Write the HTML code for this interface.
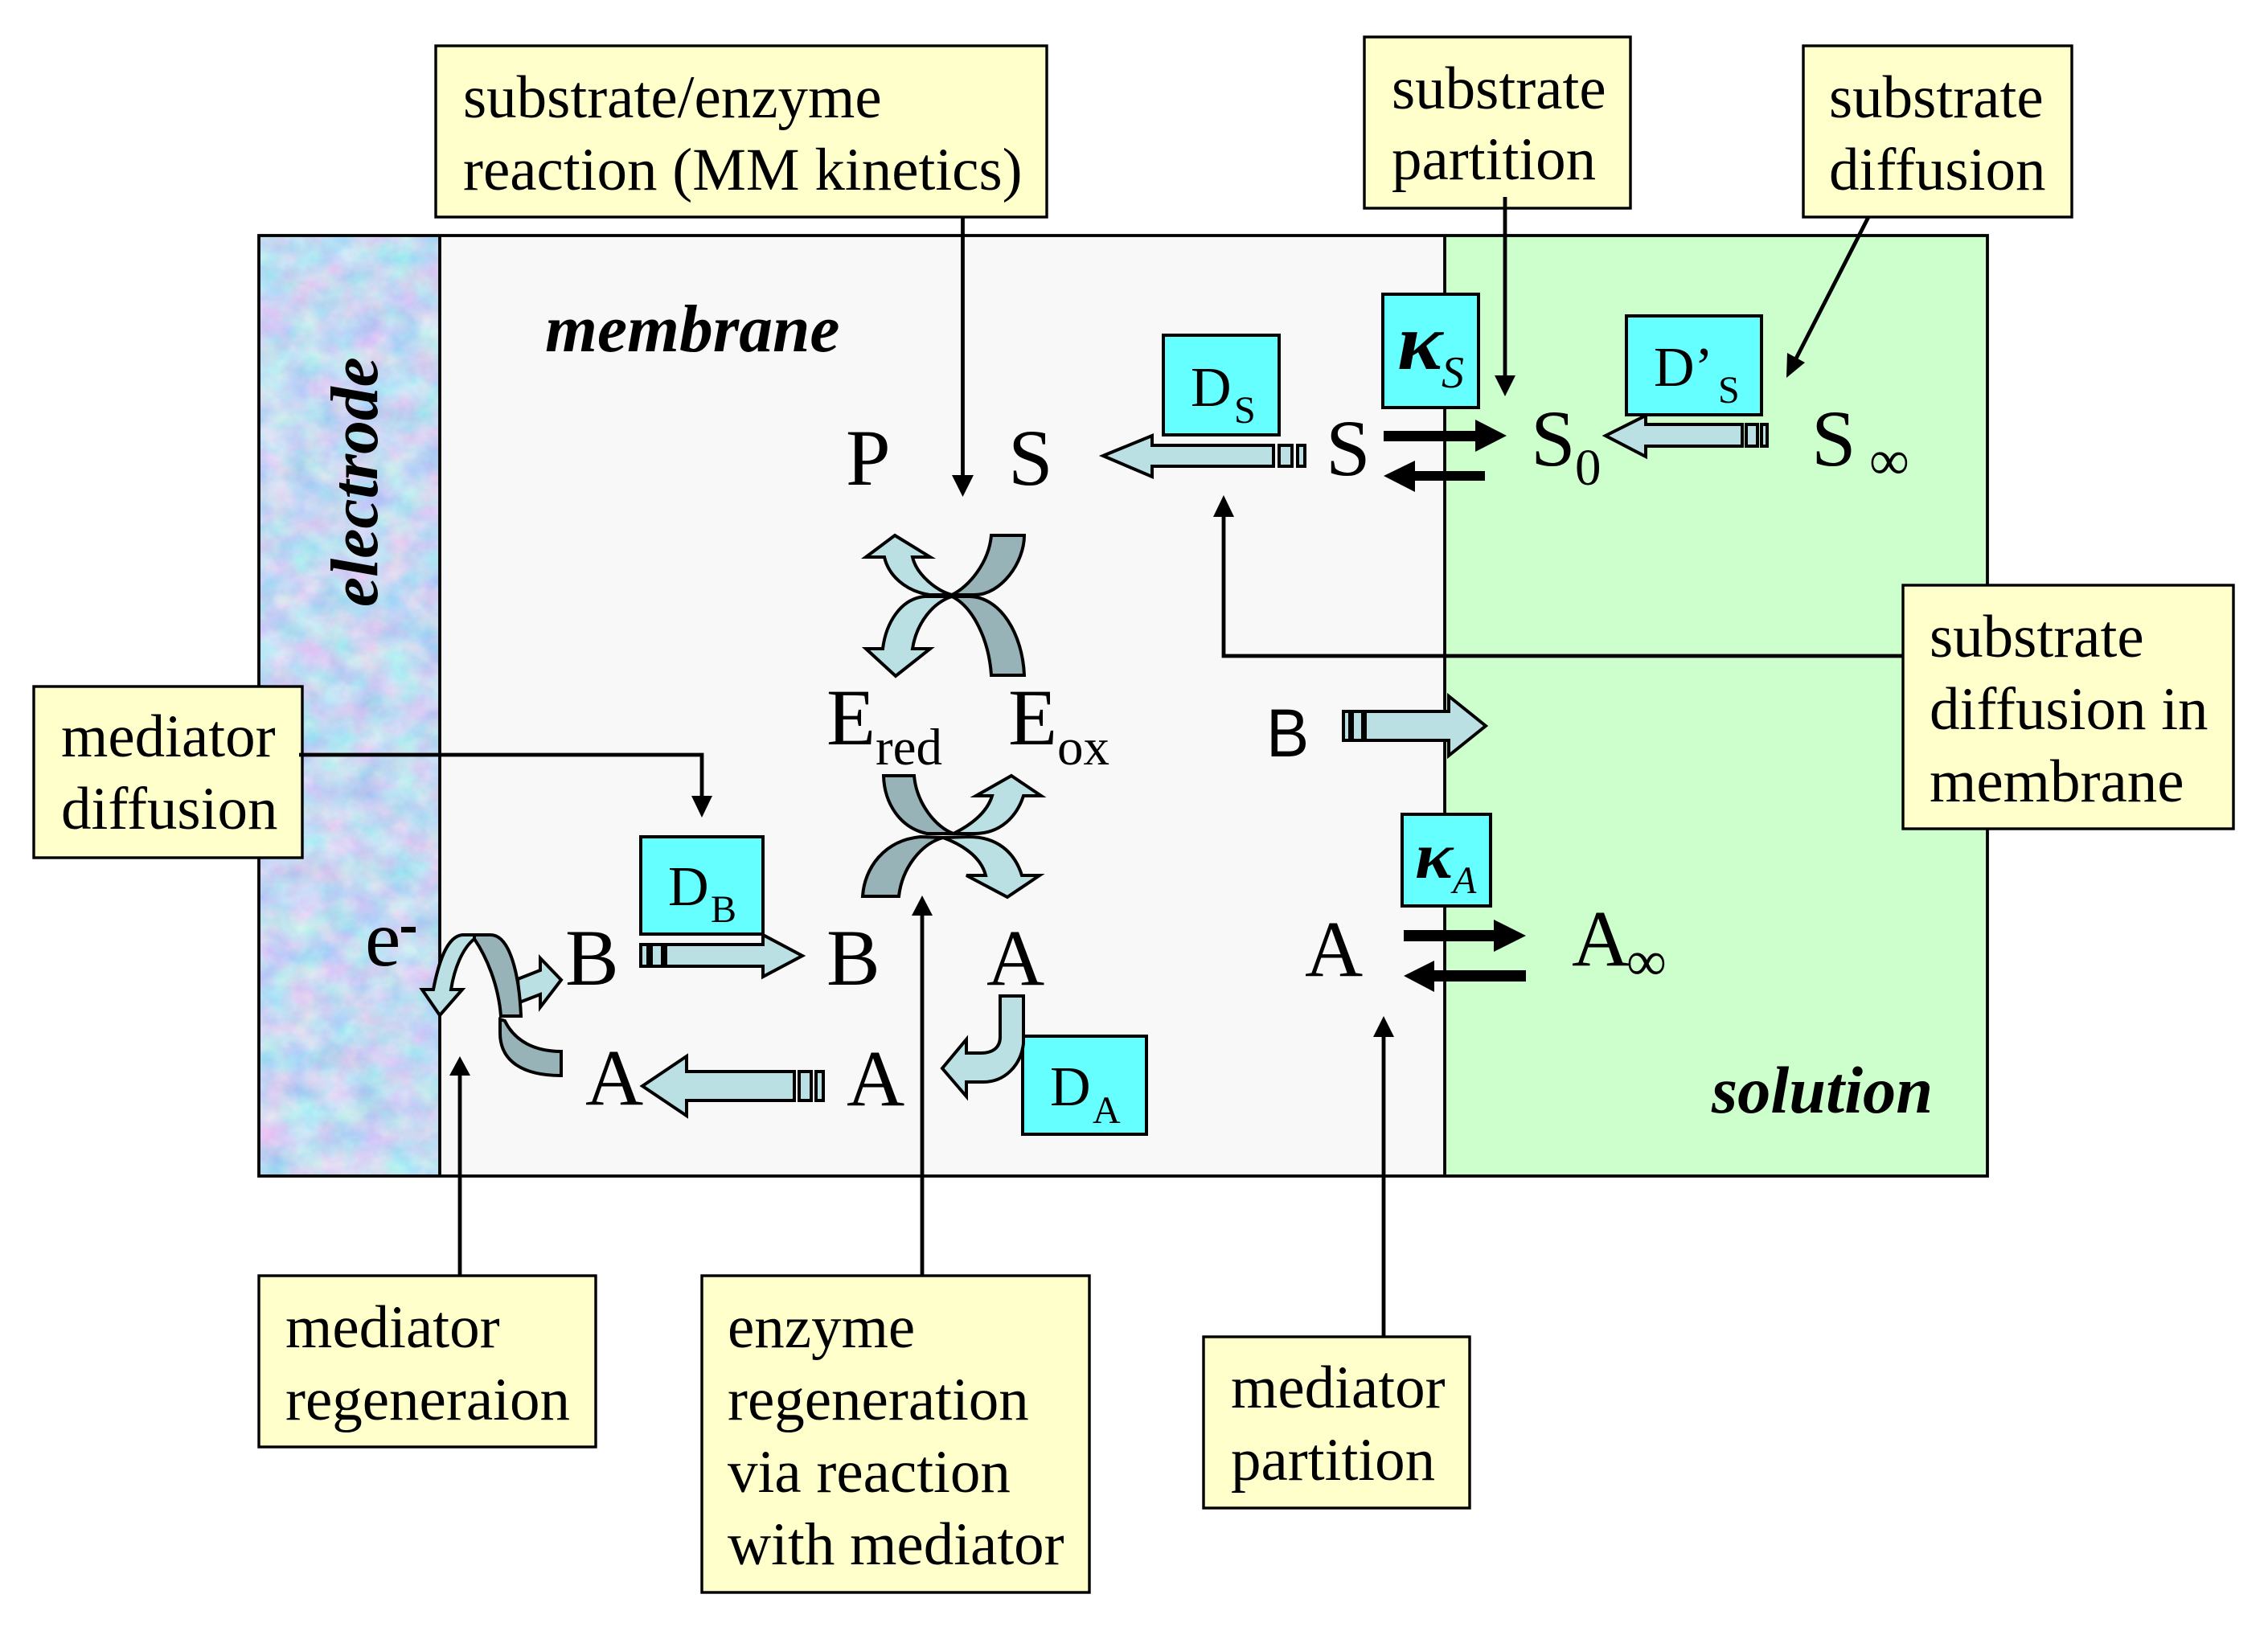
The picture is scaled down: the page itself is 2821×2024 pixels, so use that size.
<!DOCTYPE html>
<html><head><meta charset="utf-8"><style>
html,body{margin:0;padding:0;background:#fff;width:2821px;height:2024px;overflow:hidden}
svg{display:block}
text{font-family:"Liberation Serif",serif;fill:#000}
.y{font-size:75px}
.b{font-size:100px}
.bi{font-size:83.5px;font-weight:bold;font-style:italic}
.d{font-size:70px}
.s{font-size:48px}
.l{fill:#bbe0e3;stroke:#000;stroke-width:4}
.k{fill:#98b3b8;stroke:#000;stroke-width:4}
.c{fill:#66ffff;stroke:#000;stroke-width:4}
.n{fill:#ffffcc;stroke:#000;stroke-width:3.4}
.ln{fill:none;stroke:#000;stroke-width:4.8}
.fr{fill:none;stroke:#000;stroke-width:3.8}
</style></head><body>
<svg xmlns="http://www.w3.org/2000/svg" width="2821" height="2024" viewBox="0 0 2821 2024">
<defs>
<filter id="tex" x="0" y="0" width="100%" height="100%" color-interpolation-filters="sRGB">
<feTurbulence type="fractalNoise" baseFrequency="0.025 0.03" numOctaves="4" seed="7"/>
<feColorMatrix type="matrix" values="0.42 0 0 0 0.56  0 0.26 0 0 0.72  0 0 0.08 0 0.91  0 0 0 0 1"/>
</filter>
</defs>
<rect x="0" y="0" width="2821" height="2024" fill="#fff"/>
<!-- panels -->
<rect x="321" y="293" width="227" height="1171" filter="url(#tex)"/>
<rect x="548" y="293" width="1249" height="1171" fill="#f8f8f8"/>
<rect x="1797" y="293" width="675" height="1171" fill="#ccffcc"/>
<line class="fr" x1="547" y1="293" x2="547" y2="1464"/>
<line class="fr" x1="1797" y1="293" x2="1797" y2="1464"/>
<rect class="fr" x="322" y="293" width="2150" height="1170"/>

<text class="bi" x="678" y="437">membrane</text>
<text class="bi" x="2129" y="1384" style="font-size:82.5px">solution</text>
<text class="bi" transform="translate(469 755) rotate(-90)">electrode</text>

<!-- cyan boxes -->
<rect class="c" x="1447" y="417" width="144" height="124"/>
<rect class="c" x="1720" y="366" width="119" height="141"/>
<rect class="c" x="2023" y="393" width="168" height="123"/>
<rect class="c" x="1744" y="1013" width="110" height="114"/>
<rect class="c" x="797" y="1041" width="152" height="121"/>
<rect class="c" x="1272" y="1289" width="154" height="122"/>

<text class="d" x="1481" y="505">D</text><text class="s" x="1535" y="526">S</text>
<text class="d" x="2057" y="480">D’</text><text class="s" x="2137" y="501">S</text>
<text class="d" x="831" y="1126">D</text><text class="s" x="884" y="1147">B</text>
<text class="d" x="1306" y="1375">D</text><text class="s" x="1359" y="1397">A</text>
<text transform="translate(1738 459) scale(1.06 1)" font-size="100" font-weight="bold" font-style="italic">κ</text>
<text x="1793" y="482" font-size="56" font-style="italic">S</text>
<text transform="translate(1760 1092) scale(1.08 1)" font-size="82" font-weight="bold" font-style="italic">κ</text>
<text x="1807" y="1111" font-size="48" font-style="italic">A</text>

<!-- species -->
<text class="b" x="1052" y="603">P</text>
<text class="b" x="1254" y="603">S</text>
<text class="b" x="1649" y="591">S</text>
<text class="b" x="1904" y="579">S</text><text x="1959" y="603" font-size="65">0</text>
<text class="b" x="2253" y="579">S</text><text x="2325" y="596" font-size="70">∞</text>
<text class="b" x="1028" y="926">E</text><text x="1089" y="951" font-size="65">red</text>
<text class="b" x="1254" y="926">E</text><text x="1315" y="951" font-size="65">ox</text>
<text transform="translate(1575 941) scale(0.95 1)" font-size="84" style="font-family:'Liberation Sans',sans-serif">B</text>
<text class="b" x="703" y="1225">B</text>
<text class="b" x="1028" y="1225">B</text>
<text class="b" x="1227" y="1225">A</text>
<text class="b" x="1623" y="1214">A</text>
<text class="b" x="1955" y="1201">A</text><text x="2023" y="1219" font-size="70">∞</text>
<text class="b" x="728" y="1374">A</text>
<text class="b" x="1053" y="1375">A</text>
<text class="b" x="454" y="1201">e</text>
<rect x="499" y="1153" width="18" height="7" fill="#000"/>

<!-- straight block arrows -->
<g>
<path class="l" d="M1372,567 L1433,542 L1433,554 L1584,554 L1584,580 L1433,580 L1433,593 Z"/>
<rect class="l" x="1591" y="554" width="16" height="26"/><rect class="l" x="1614" y="554" width="9" height="26"/>
<path class="l" d="M1997,542 L2047,517 L2047,528 L2167,528 L2167,555 L2047,555 L2047,568 Z"/>
<rect class="l" x="2172" y="528" width="14" height="27"/><rect class="l" x="2191" y="528" width="7" height="27"/>
<path class="l" d="M1848,903 L1802,866 L1802,885 L1698,885 L1698,921 L1802,921 L1802,940 Z"/>
<rect class="l" x="1671" y="885" width="8" height="36"/><rect class="l" x="1682" y="885" width="13" height="36"/>
<path class="l" d="M998,1189 L949,1163 L949,1175 L828,1175 L828,1202 L949,1202 L949,1215 Z"/>
<rect class="l" x="797" y="1175" width="9" height="27"/><rect class="l" x="810" y="1175" width="14" height="27"/>
<path class="l" d="M799,1351 L854,1314 L854,1333 L988,1333 L988,1369 L854,1369 L854,1388 Z"/>
<rect class="l" x="994" y="1333" width="15" height="36"/><rect class="l" x="1015" y="1333" width="9" height="36"/>
</g>

<!-- black equilibrium arrows -->
<path d="M1721,536 L1835,536 L1835,522 L1874,542 L1835,562 L1835,549 L1721,549 Z" fill="#000"/>
<path d="M1847,586 L1760,586 L1760,573 L1721,592 L1760,612 L1760,598 L1847,598 Z" fill="#000"/>
<path d="M1746,1157 L1858,1157 L1858,1144 L1898,1164 L1858,1184 L1858,1171 L1746,1171 Z" fill="#000"/>
<path d="M1898,1207 L1784,1207 L1784,1195 L1746,1214 L1784,1234 L1784,1221 L1898,1221 Z" fill="#000"/>

<!-- top X -->
<path class="l" d="M1113,666 L1157,693 L1135,693 C1140,715 1165,735 1184,740 L1156,740 C1125,735 1105,715 1100,693 L1077,693 Z"/>
<path class="k" d="M1233,666 L1274,666 C1274,700 1245,740 1212,740 L1184,740 C1205,730 1230,700 1233,666 Z"/>
<path class="l" d="M1114,841 L1157,807 L1135,807 C1140,775 1160,750 1184,742 L1150,742 C1120,745 1102,775 1098,807 L1077,807 Z"/>
<path class="k" d="M1233,840 L1274,840 C1272,790 1245,742 1205,742 L1184,742 C1210,755 1230,795 1233,840 Z"/>

<!-- lower X -->
<path class="k" d="M1099,965 L1137,965 C1140,1000 1165,1030 1186,1037 L1153,1037 C1120,1030 1100,1000 1099,965 Z"/>
<path class="l" d="M1258,965 L1295,990 L1273,990 C1265,1015 1245,1037 1212,1037 L1186,1037 C1210,1025 1228,1010 1234,990 L1214,990 Z"/>
<path class="k" d="M1073,1115 L1118,1115 C1122,1080 1145,1050 1173,1042 L1145,1041 C1100,1045 1075,1080 1073,1115 Z"/>
<path class="l" d="M1253,1116 L1293,1089 L1271,1089 C1262,1060 1240,1041 1205,1041 L1173,1042 C1195,1050 1220,1065 1226,1089 L1202,1089 Z"/>

<!-- curved A arrow -->
<path class="l" d="M1244,1239 L1273,1239 L1273,1298 C1270,1325 1250,1346 1223,1346 L1202,1346 L1202,1364 L1172,1329 L1202,1293 L1202,1310 L1220,1310 C1235,1310 1244,1303 1244,1290 Z"/>

<!-- electrode regeneration arrows -->
<path class="l" d="M644,1218 L672,1207 L672,1192 L698,1219 L672,1253 L672,1237 L646,1247 Z"/>
<path class="l" d="M547,1263 L575,1231 L561,1231 C565,1205 575,1180 590,1168 L594,1163 L575,1163 C555,1165 545,1200 539,1231 L525,1231 Z"/>
<path class="k" d="M590,1168 C605,1190 620,1225 623,1264 L648,1264 C646,1215 635,1163 610,1163 L590,1163 Z"/>
<path class="k" d="M628,1270 C640,1295 665,1308 698,1308 L698,1338 C650,1338 622,1320 622,1285 L622,1268 Z"/>

<!-- notes -->
<rect class="n" x="542" y="57" width="760" height="213"/>
<rect class="n" x="1697" y="46" width="331" height="213"/>
<rect class="n" x="2243" y="57" width="334" height="213"/>
<rect class="n" x="2367" y="728" width="411" height="303"/>
<rect class="n" x="42" y="854" width="334" height="213"/>
<rect class="n" x="322" y="1587" width="419" height="213"/>
<rect class="n" x="873" y="1587" width="482" height="394"/>
<rect class="n" x="1497" y="1663" width="331" height="213"/>

<text class="y" x="576" y="146">substrate/enzyme</text>
<text class="y" x="576" y="236">reaction (MM kinetics)</text>
<text class="y" x="1731" y="135">substrate</text>
<text class="y" x="1731" y="223">partition</text>
<text class="y" x="2275" y="146">substrate</text>
<text class="y" x="2275" y="236">diffusion</text>
<text class="y" x="2400" y="817">substrate</text>
<text class="y" x="2400" y="907">diffusion in</text>
<text class="y" x="2400" y="997">membrane</text>
<text class="y" x="76" y="941">mediator</text>
<text class="y" x="76" y="1031">diffusion</text>
<text class="y" x="355" y="1676">mediator</text>
<text class="y" x="355" y="1766">regeneraion</text>
<text class="y" x="905" y="1676">enzyme</text>
<text class="y" x="905" y="1766">regeneration</text>
<text class="y" x="905" y="1856">via reaction</text>
<text class="y" x="905" y="1946">with mediator</text>
<text class="y" x="1531" y="1751">mediator</text>
<text class="y" x="1531" y="1841">partition</text>

<!-- callout connectors -->
<g>
<line class="ln" x1="1197.5" y1="270" x2="1197.5" y2="595"/>
<path d="M1184,591 L1211,591 L1197.5,618 Z"/>
<line class="ln" x1="1872" y1="245" x2="1872" y2="470"/>
<path d="M1859,467 L1885,467 L1872,493 Z"/>
<line class="ln" x1="2324" y1="270" x2="2234" y2="446"/>
<path d="M2223,439 L2245,451 L2222,470 Z"/>
<polyline class="ln" points="2367,816 1522,816 1522,640"/>
<path d="M1509,643 L1535,643 L1522,616 Z"/>
<polyline class="ln" points="372,939 873,939 873,995"/>
<path d="M860,990 L886,990 L873,1017 Z"/>
<line class="ln" x1="572" y1="1587" x2="572" y2="1334"/>
<path d="M559,1338 L585,1338 L572,1314 Z"/>
<line class="ln" x1="1147" y1="1587" x2="1147" y2="1135"/>
<path d="M1134,1139 L1160,1139 L1147,1114 Z"/>
<line class="ln" x1="1721" y1="1663" x2="1721" y2="1286"/>
<path d="M1708,1290 L1734,1290 L1721,1264 Z"/>
</g>
</svg>
</body></html>
